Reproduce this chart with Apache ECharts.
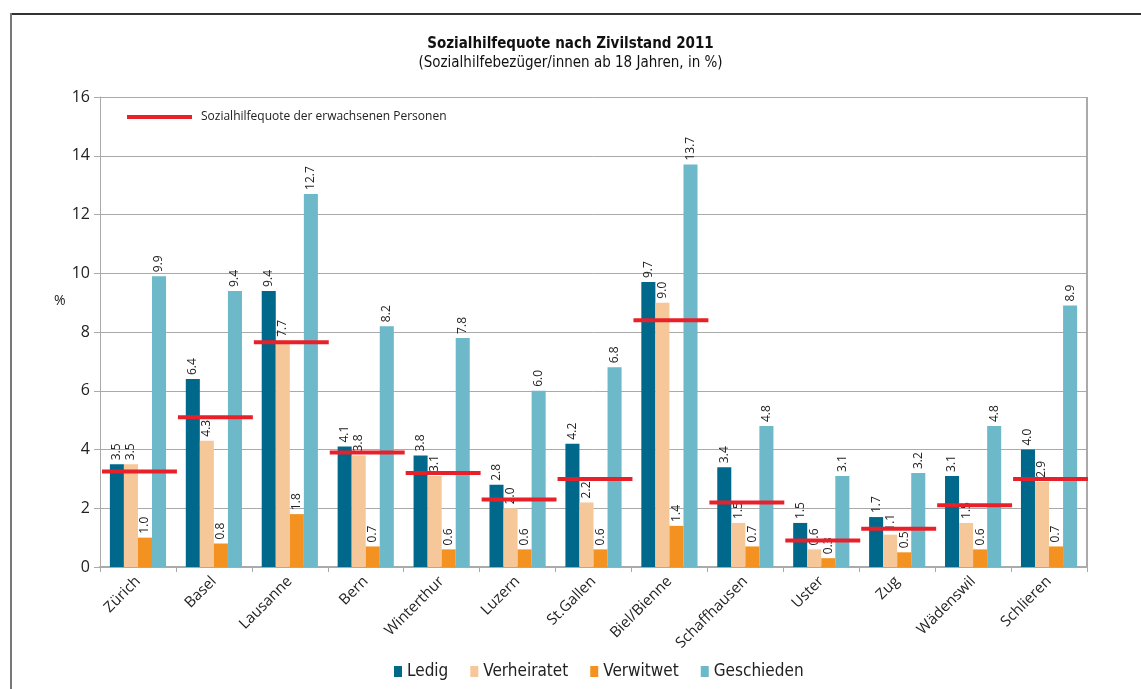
<!DOCTYPE html>
<html>
<head>
<meta charset="utf-8">
<script src="https://cdn.jsdelivr.net/npm/echarts@6/dist/echarts.min.js"></script>
<style>html,body{margin:0;padding:0;background:#fff}#c{width:1141px;height:689px}</style>
</head>
<body>
<div id="c"></div>
<script>
const cities = ['Zürich','Basel','Lausanne','Bern','Winterthur','Luzern','St.Gallen','Biel/Bienne','Schaffhausen','Uster','Zug','Wädenswil','Schlieren'];
const ledig = [3.5, 6.4, 9.4, 4.1, 3.8, 2.8, 4.2, 9.7, 3.4, 1.5, 1.7, 3.1, 4.0];
const verheiratet = [3.5, 4.3, 7.7, 3.8, 3.1, 2.0, 2.2, 9.0, 1.5, 0.6, 1.1, 1.5, 2.9];
const verwitwet = [1.0, 0.8, 1.8, 0.7, 0.6, 0.6, 0.6, 1.4, 0.7, 0.3, 0.5, 0.6, 0.7];
const geschieden = [9.9, 9.4, 12.7, 8.2, 7.8, 6.0, 6.8, 13.7, 4.8, 3.1, 3.2, 4.8, 8.9];
const quoteErwachsene = [3.25, 5.1, 7.65, 3.9, 3.2, 2.3, 3.0, 8.4, 2.2, 0.9, 1.3, 2.1, 3.0];
const yTicks = [0, 2, 4, 6, 8, 10, 12, 14, 16];

const seriesNames = ['Ledig','Verheiratet','Verwitwet','Geschieden'];
const seriesColors = ['#00698B','#F5C799','#F39221','#6DB9CA'];
const seriesData = [ledig, verheiratet, verwitwet, geschieden];
const refName = 'Sozialhilfequote der erwachsenen Personen';

const chart = echarts.init(document.getElementById('c'));
const barSeries = seriesNames.map((n, k) => ({
  name: n, type: 'bar', data: seriesData[k],
  itemStyle: { color: seriesColors[k] },
  barGap: '0%', barCategoryGap: '26%',
  label: {
    show: true, position: 'top', rotate: 90, align: 'left', verticalAlign: 'middle',
    distance: 4, fontSize: 12, color: '#222', fontFamily: 'Open Sans',
    formatter: p => p.value.toFixed(1)
  },
  z: 2
}));

chart.setOption({
  animation: false,
  title: {
    text: 'Sozialhilfequote nach Zivilstand 2011',
    subtext: '(Sozialhilfebezüger/innen ab 18 Jahren, in %)',
    left: 'center', top: 32, itemGap: 4,
    textStyle: { fontFamily: 'DejaVu Sans Condensed', fontSize: 15, fontWeight: 'bold', color: '#111' },
    subtextStyle: { fontFamily: 'DejaVu Sans Condensed', fontSize: 15, color: '#111' }
  },
  legend: [{
    data: seriesNames, bottom: 4, left: 389, icon: 'rect', itemWidth: 8, itemHeight: 11, itemGap: 22,
    textStyle: { fontFamily: 'DejaVu Sans Condensed', fontSize: 17, color: '#222' }
  }, {
    data: [refName], left: 122, top: 106, icon: 'rect', itemWidth: 65, itemHeight: 4, itemGap: 10,
    textStyle: { fontFamily: 'Open Sans', fontSize: 12, color: '#222', padding: [0,0,0,4] }
  }],
  grid: { left: 100, right: 54, top: 97, bottom: 122 },
  xAxis: {
    type: 'category', data: cities,
    axisLine: { lineStyle: { color: '#aaa', width: 2 } },
    axisTick: { show: true, length: 5, lineStyle: { color: '#aaa' } },
    axisLabel: { rotate: 45, fontSize: 15, color: '#222', fontFamily: 'Open Sans', margin: 12, interval: 0 }
  },
  yAxis: {
    type: 'value', min: yTicks[0], max: yTicks[yTicks.length-1], interval: 2,
    axisLine: { show: true, lineStyle: { color: '#aaa' } },
    axisTick: { show: true, length: 6, lineStyle: { color: '#aaa' } },
    axisLabel: { fontSize: 16, color: '#222', fontFamily: 'Open Sans', margin: 10 },
    splitLine: { lineStyle: { color: '#aaa' } }
  },
  graphic: [
    { type: 'line', shape: { x1: 10, y1: 14, x2: 1141, y2: 14 }, style: { stroke: '#333', lineWidth: 2 } },
    { type: 'line', shape: { x1: 11, y1: 13, x2: 11, y2: 689 }, style: { stroke: '#777', lineWidth: 2 } },
    { type: 'line', shape: { x1: 1087, y1: 97, x2: 1087, y2: 567 }, style: { stroke: '#aaa', lineWidth: 2 } },
    { type: 'text', left: 54, top: 294, style: { text: '%', fontSize: 14, fill: '#222', fontFamily: 'Open Sans' } }
  ],
  series: barSeries.concat([{
    name: refName, type: 'custom', itemStyle: { color: '#E8202A' },
    data: quoteErwachsene.map((v, i) => [i, v]),
    encode: { x: 0, y: 1 },
    renderItem: (params, api) => {
      const pt = api.coord([api.value(0), api.value(1)]);
      const w = api.size([1, 0])[0];
      return { type: 'line', shape: { x1: pt[0] - w/2 + 2, y1: pt[1], x2: pt[0] + w/2 + 1, y2: pt[1] },
        style: { stroke: '#E8202A', lineWidth: 4 } };
    },
    z: 5
  }])
});
</script>
</body>
</html>
